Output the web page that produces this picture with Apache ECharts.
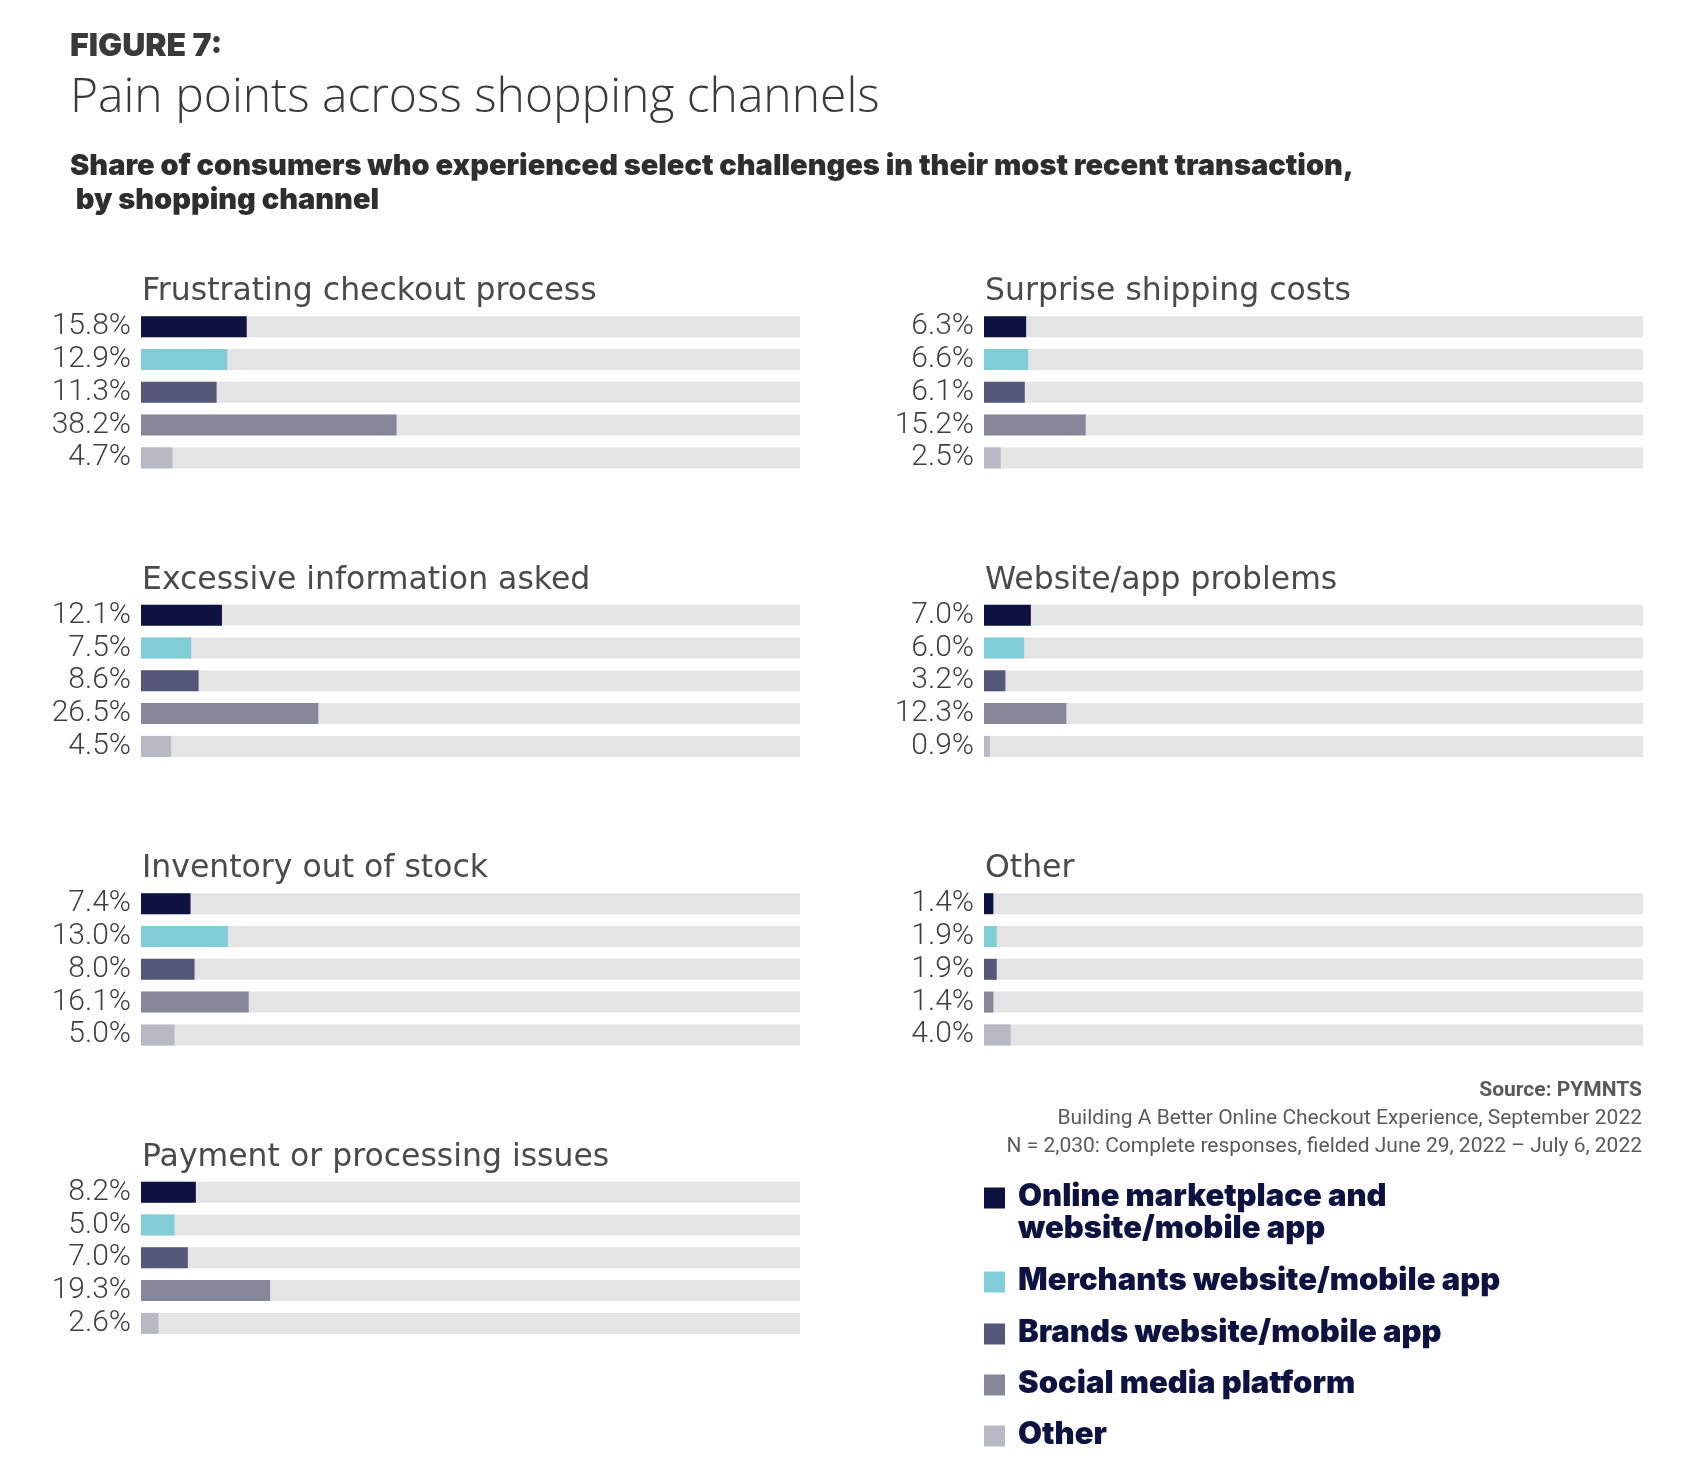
<!DOCTYPE html>
<html><head><meta charset="utf-8">
<script src="https://cdn.jsdelivr.net/npm/echarts@6/dist/echarts.min.js"></script>
<style>html,body{margin:0;padding:0;background:#fff}#c{width:1688px;height:1468px}</style>
</head><body><div id="c"></div>
<script>
// ---- data ----
const painPoints = ["Frustrating checkout process","Excessive information asked","Inventory out of stock","Payment or processing issues","Surprise shipping costs","Website/app problems","Other"];
const channels = ["Online marketplace and\nwebsite/mobile app","Merchants website/mobile app","Brands website/mobile app","Social media platform","Other"];
const frustratingCheckout = [15.8,12.9,11.3,38.2,4.7];
const excessiveInfo = [12.1,7.5,8.6,26.5,4.5];
const inventoryOut = [7.4,13.0,8.0,16.1,5.0];
const paymentIssues = [8.2,5.0,7.0,19.3,2.6];
const shippingCosts = [6.3,6.6,6.1,15.2,2.5];
const websiteProblems = [7.0,6.0,3.2,12.3,0.9];
const otherIssues = [1.4,1.9,1.9,1.4,4.0];
const panelValues = [frustratingCheckout, excessiveInfo, inventoryOut, paymentIssues, shippingCosts, websiteProblems, otherIssues];

// ---- styles / layout ----
const channelColors = ['#0e1240','#80ccd7','#535778','#868899','#b8b9c4'];
const panelCol = [0,0,0,0,1,1,1];
const panelRow = [0,1,2,3,0,1,2];
const colX = [141, 984];
const trackW = 659;
const rowPitch = 288.5;
const gridTop0 = 310.3;
const gridH = 164;
const textGray = '#4a4a4a';
const navy = '#0e1240';

const grids = [], xAxes = [], yAxes = [], series = [], titles = [];
panelValues.forEach((vals, i) => {
  const top = gridTop0 + panelRow[i] * rowPitch;
  grids.push({left: colX[panelCol[i]], top: top, width: trackW, height: gridH, containLabel: false});
  xAxes.push({type: 'value', gridIndex: i, min: 0, max: 98.5, show: false});
  yAxes.push({type: 'category', gridIndex: i, data: channels, inverse: true, show: false});
  series.push({
    type: 'bar', xAxisIndex: i, yAxisIndex: i, barWidth: 21,
    showBackground: true, backgroundStyle: {color: '#e4e4e4'},
    data: vals.map((v, k) => ({value: v, itemStyle: {color: channelColors[k]}})),
    label: {show: true, position: 'left', distance: 10, fontFamily: 'Roboto', fontWeight: 300, fontSize: 30, color: '#3f3f3f',
      formatter: p => p.value.toFixed(1) + '%'},
    animation: false
  });
  titles.push({text: painPoints[i], left: colX[panelCol[i]] + 1, top: 274 + panelRow[i] * rowPitch, padding: 0,
    textStyle: {fontFamily: 'DejaVu Sans', fontWeight: 'normal', fontSize: 31.5, lineHeight: 36, color: textGray}});
});

titles.push({text: 'FIGURE 7:', left: 70, top: 28, padding: 0,
  textStyle: {fontFamily: 'Inter', fontWeight: 900, fontSize: 32, lineHeight: 36, color: '#3a3a3a'}});
titles.push({text: 'Pain points across shopping channels', left: 70, top: 70, padding: 0,
  textStyle: {fontFamily: 'Open Sans', fontWeight: 300, fontSize: 48, lineHeight: 56, color: '#3a3a3a'}});
titles.push({text: 'Share of consumers who experienced select challenges in their most recent transaction,\n by shopping channel', left: 70, top: 149, padding: 0,
  textStyle: {fontFamily: 'Inter', fontWeight: 900, fontSize: 29, lineHeight: 34, color: '#2e2e2e'}});

const graphics = [];
const srcLines = [
  {t: 'Source: PYMNTS', y: 1091, w: 'bold'},
  {t: 'Building A Better Online Checkout Experience, September 2022', y: 1119, w: 'normal'},
  {t: 'N = 2,030: Complete responses, fielded June 29, 2022 – July 6, 2022', y: 1147, w: 'normal'}
];
srcLines.forEach(s => graphics.push({type: 'text', x: 1642, y: s.y,
  style: {text: s.t, align: 'right', verticalAlign: 'middle', fontFamily: 'Roboto', fontWeight: s.w, fontSize: 21, fill: '#5a5a5a'}}));

const legendY = [1198, 1282, 1334, 1385, 1436];
channels.forEach((c, k) => {
  graphics.push({type: 'rect', shape: {x: 984, y: legendY[k] - 10.5, width: 21, height: 21}, style: {fill: channelColors[k]}});
  graphics.push({type: 'text', x: 1018, y: legendY[k] - 17,
    style: {text: c, align: 'left', verticalAlign: 'top', fontFamily: 'Inter', fontWeight: 900, fontSize: 31, lineHeight: 32, fill: navy}});
});

const chart = echarts.init(document.getElementById('c'), null, {renderer: 'canvas'});
chart.setOption({
  backgroundColor: '#fff',
  animation: false,
  title: titles,
  grid: grids, xAxis: xAxes, yAxis: yAxes, series: series,
  graphic: graphics
});
</script></body></html>
